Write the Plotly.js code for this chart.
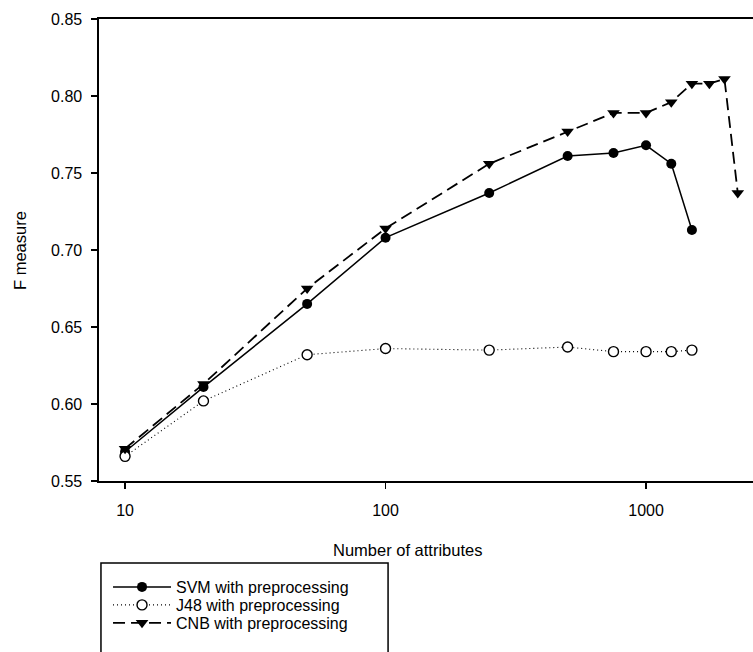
<!DOCTYPE html>
<html>
<head>
<meta charset="utf-8">
<script src="https://cdn.plot.ly/plotly-3.0.1.min.js"></script>
<style>
  html, body { margin: 0; padding: 0; background: #ffffff; }
  #chart { width: 753px; height: 652px; }
</style>
</head>
<body>
<div id="chart"></div>
<script>
// Number of attributes used by each classifier
var attrs = [10, 20, 50, 100, 250, 500, 750, 1000, 1250, 1500];
var cnbAttrs = [10, 20, 50, 100, 250, 500, 750, 1000, 1250, 1500, 1750, 2000, 2250];

// F measure per classifier
var svmF = [0.569, 0.611, 0.665, 0.708, 0.737, 0.761, 0.763, 0.768, 0.756, 0.713];
var j48F = [0.566, 0.602, 0.632, 0.636, 0.635, 0.637, 0.634, 0.634, 0.634, 0.635];
var cnbF = [0.571, 0.613, 0.675, 0.714, 0.756, 0.777, 0.789, 0.789, 0.796, 0.808, 0.808, 0.811, 0.737];

var seriesNames = ['SVM with preprocessing', 'J48 with preprocessing', 'CNB with preprocessing'];

// Axis ticks
var xTicks = [10, 100, 1000];
var xTickText = ['10', '100', '1000'];
var yTicks = [0.55, 0.60, 0.65, 0.70, 0.75, 0.80, 0.85];

var FONT = 'Liberation Sans, Arial, Helvetica, sans-serif';

var traces = [
  {
    x: attrs, y: svmF, name: seriesNames[0], type: 'scatter', mode: 'lines+markers',
    legend: 'legend',
    line: { color: '#000000', width: 1.5 },
    marker: { symbol: 'circle', size: 10, color: '#000000', line: { width: 0 } }
  },
  {
    x: attrs, y: j48F, name: seriesNames[1], type: 'scatter', mode: 'lines+markers',
    legend: 'legend2',
    line: { color: '#000000', width: 1.1, dash: '1px,3px' },
    marker: { symbol: 'circle', size: 10, color: '#ffffff', line: { color: '#000000', width: 1.4 } }
  },
  {
    x: cnbAttrs, y: cnbF, name: seriesNames[2], type: 'scatter', mode: 'lines+markers',
    legend: 'legend3',
    line: { color: '#000000', width: 1.8, dash: '12px,6px' },
    marker: { symbol: 'triangle-down', size: 11, color: '#000000', line: { width: 0 } }
  }
];

// one legend box per series so the rows sit close together
function legendRow(yPaper) {
  return {
    x: 0.0138, y: yPaper, xanchor: 'left', yanchor: 'top',
    bgcolor: 'rgba(0,0,0,0)', borderwidth: 0,
    itemwidth: 58,
    font: { family: FONT, size: 16, color: '#000000' }
  };
}

// plot area: 99..753 px horizontally, 19..481 px vertically
var layout = {
  width: 753,
  height: 652,
  margin: { l: 99, r: 0, t: 19, b: 171, pad: 0 },
  paper_bgcolor: '#ffffff',
  plot_bgcolor: '#ffffff',
  font: { family: FONT, size: 16, color: '#000000' },
  showlegend: true,
  xaxis: {
    type: 'log',
    range: [0.9, 3.4106],
    tickmode: 'array',
    tickvals: xTicks,
    ticktext: xTickText,
    ticks: 'outside',
    ticklen: 6,
    tickwidth: 1.5,
    tickcolor: '#000000',
    showline: true,
    linecolor: '#000000',
    linewidth: 1.6,
    mirror: true,
    showgrid: false,
    zeroline: false,
    ticklabelstandoff: 8,
    tickfont: { family: FONT, size: 16, color: '#000000' }
  },
  yaxis: {
    range: [0.55, 0.85],
    tickmode: 'array',
    tickvals: yTicks,
    tickformat: '.2f',
    ticks: 'outside',
    ticklen: 6,
    tickwidth: 1.5,
    tickcolor: '#000000',
    showline: true,
    linecolor: '#000000',
    linewidth: 1.6,
    showgrid: false,
    zeroline: false,
    ticklabelstandoff: 6,
    tickfont: { family: FONT, size: 16, color: '#000000' }
  },
  annotations: [
    {
      text: 'Number of attributes', xref: 'paper', yref: 'paper',
      x: 0.471, y: -0.149, xanchor: 'center', yanchor: 'middle',
      showarrow: false, font: { family: FONT, size: 16.5, color: '#000000' }
    },
    {
      text: 'F measure', xref: 'paper', yref: 'paper',
      x: -0.1208, y: 0.5, xanchor: 'center', yanchor: 'middle', textangle: -90,
      showarrow: false, font: { family: FONT, size: 16.5, color: '#000000' }
    }
  ],
  shapes: [
    {
      // legend frame, running past the bottom edge of the page
      type: 'rect', xref: 'paper', yref: 'paper',
      x0: 0.003, x1: 0.442, y0: -0.1775, y1: -0.6,
      line: { color: '#000000', width: 1.5 }, fillcolor: 'rgba(0,0,0,0)'
    }
  ],
  legend: legendRow(-0.1926),
  legend2: legendRow(-0.2316),
  legend3: legendRow(-0.2705)
};

Plotly.newPlot('chart', traces, layout, { displayModeBar: false, staticPlot: true });
</script>
</body>
</html>
